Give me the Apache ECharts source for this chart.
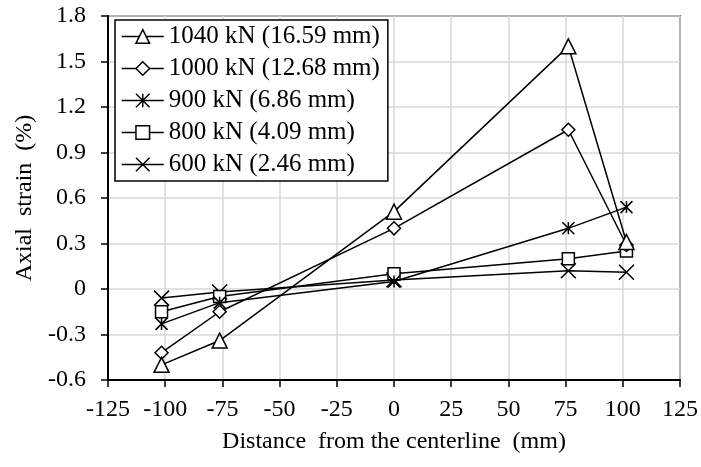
<!DOCTYPE html>
<html>
<head>
<meta charset="utf-8">
<script src="https://cdn.jsdelivr.net/npm/echarts@6.0.0/dist/echarts.min.js"></script>
<style>
    html, body { margin: 0; padding: 0; background: #fff; }
    #chart { width: 701px; height: 467px; }
</style>
</head>
<body>
<div id="chart"></div>
<script>
// gauge positions (mm from the centerline)
var positions = [-101.6, -76.2, 0, 76.2, 101.6];

var seriesNames = ['1040 kN (16.59 mm)', '1000 kN (12.68 mm)', '900 kN (6.86 mm)', '800 kN (4.09 mm)', '600 kN (2.46 mm)'];

// axial strain (%)
var strain1040 = [-0.50, -0.34, 0.51, 1.60, 0.31];
var strain1000 = [-0.42, -0.15, 0.40, 1.05, 0.29];
var strain900 = [-0.23, -0.09, 0.05, 0.40, 0.54];
var strain800 = [-0.15, -0.05, 0.10, 0.20, 0.25];
var strain600 = [-0.06, -0.02, 0.06, 0.12, 0.11];

var xTicks = { min: -125, max: 125, step: 25 };
var yTicks = { min: -0.6, max: 1.8, step: 0.3 };

(function () {
    var font = "'Liberation Serif', 'Times New Roman', serif";
    var chart = echarts.init(document.getElementById('chart'), null, { renderer: 'canvas' });

    var markers = [
        { symbol: 'triangle', size: 15 },
        { symbol: 'diamond', size: 13 },
        { symbol: 'path://M5,0L5,10M0,0L10,10M10,0L0,10', size: 12 },
        { symbol: 'rect', size: 12 },
        { symbol: 'path://M0,0L10,10M10,0L0,10', size: 15 }
    ];
    var values = [strain1040, strain1000, strain900, strain800, strain600];

    var series = [];
    for (var i = 0; i < seriesNames.length; i++) {
        var pts = [];
        for (var j = 0; j < positions.length; j++) {
            pts.push([positions[j], values[i][j]]);
        }
        series.push({
            name: seriesNames[i],
            type: 'line',
            data: pts,
            symbol: markers[i].symbol,
            symbolSize: markers[i].size,
            showAllSymbol: true,
            lineStyle: { color: '#000', width: 1.5 },
            itemStyle: { color: '#fff', borderColor: '#000', borderWidth: 1.5 },
            emphasis: { disabled: true },
            z: 10 - i
        });
    }

    var option = {
        animation: false,
        backgroundColor: '#fff',
        grid: {
            left: 108, right: 16, top: 16, bottom: 87,
            show: true, borderColor: '#000', borderWidth: 1.5
        },
        legend: {
            orient: 'vertical',
            left: 115, top: 20,
            data: seriesNames,
            backgroundColor: '#fff',
            borderColor: '#000',
            borderWidth: 1.5,
            padding: [4, 8, 4, 6],
            itemGap: 7,
            itemWidth: 42,
            itemHeight: 17,
            lineStyle: { color: '#000', width: 1.5 },
            itemStyle: { color: '#fff', borderColor: '#000', borderWidth: 1.5 },
            textStyle: { fontFamily: font, fontSize: 25, color: '#000' },
            selectedMode: false,
            z: 20
        },
        xAxis: {
            type: 'value',
            min: xTicks.min, max: xTicks.max, interval: xTicks.step,
            name: 'Distance  from the centerline  (mm)',
            nameLocation: 'middle',
            nameGap: 50,
            nameTextStyle: { fontFamily: font, fontSize: 24, color: '#000' },
            axisLine: { onZero: false, lineStyle: { color: '#000', width: 2 } },
            axisTick: { inside: false, length: 7, lineStyle: { color: '#000', width: 1.5 } },
            axisLabel: { fontFamily: font, fontSize: 24, color: '#000', margin: 18 },
            splitLine: { show: true, lineStyle: { color: '#d9d9d9', width: 1.5 } }
        },
        yAxis: {
            type: 'value',
            min: yTicks.min, max: yTicks.max, interval: yTicks.step,
            name: 'Axial  strain  (%)',
            nameLocation: 'middle',
            nameGap: 71,
            nameTextStyle: { fontFamily: font, fontSize: 24, color: '#000' },
            axisLine: { show: true, onZero: false, lineStyle: { color: '#000', width: 2 } },
            axisTick: { show: true, inside: false, length: 7, lineStyle: { color: '#000', width: 1.5 } },
            axisLabel: {
                fontFamily: font, fontSize: 24, color: '#000', margin: 22,
                formatter: function (v) { return String(+v.toFixed(1)); }
            },
            splitLine: { show: true, lineStyle: { color: '#d9d9d9', width: 1.5 } }
        },
        series: series
    };

    chart.setOption(option);
})();
</script>
</body>
</html>
